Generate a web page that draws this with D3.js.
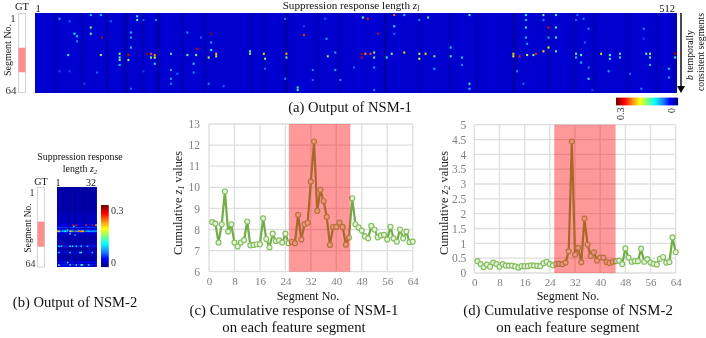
<!DOCTYPE html>
<html><head><meta charset="utf-8">
<script src="https://cdn.jsdelivr.net/npm/d3@7"></script>
<style>html,body{margin:0;padding:0;background:#fff}svg{display:block;filter:blur(0.3px)}text{font-family:"Liberation Serif",serif}</style>
</head><body><svg id="c" width="706" height="338">
<defs>
<filter id="softA" filterUnits="userSpaceOnUse" x="35" y="13" width="642" height="80" color-interpolation-filters="sRGB"><feGaussianBlur stdDeviation="0.6 0.7" edgeMode="duplicate"/></filter>
<filter id="softB" filterUnits="userSpaceOnUse" x="57" y="187" width="39.5" height="79.7" color-interpolation-filters="sRGB"><feGaussianBlur stdDeviation="0.5" edgeMode="duplicate"/></filter>
</defs></svg>
<script>
// ---------- data ----------
const segments = d3.range(1, 65);
const z1Values = [8.35,8.28,7.38,8.25,9.8,7.9,8.25,7.38,7.2,7.38,7.5,8.38,7.25,7.27,7.3,7.3,8.53,7.55,7.15,7.8,7.45,7.48,7.38,7.8,7.35,7.42,7.35,8.7,7.53,8.25,8.32,10.27,12.17,8.88,9.88,9.35,8.6,7.27,8.13,8.12,8.33,8.12,7.28,7.62,9.48,8.25,8.1,7.95,7.67,7.58,8.17,8.0,7.63,7.72,7.75,7.53,8.13,7.58,7.42,8.0,7.58,7.9,7.4,7.43];
const z2Values = [.4,.3,.2,.28,.21,.35,.3,.21,.3,.25,.25,.25,.22,.18,.23,.23,.23,.26,.25,.24,.23,.33,.38,.3,.26,.31,.31,.3,.35,.73,4.43,.62,.85,.36,1.83,.96,.57,.7,.42,.52,.52,.37,.34,.38,.4,.42,.3,.83,.52,.38,.4,.4,.82,.38,.47,.35,.31,.29,.48,.54,.35,.37,1.2,.7];
const xTicks = [0,8,16,24,32,40,48,56,64];
const yTicksC = [6,7,8,9,10,11,12,13];
const yTicksD = [0,.5,1,1.5,2,2.5,3,3.5,4,4.5,5];
const gtRangeC = [25.1, 44.4];
const gtRangeD = [25.4, 44.9];
// heat map (a): [column, row, value]
const hotA = [[19,4,.09],[27,6,.07],[44,1,.1],[52,1,.1],[60,6,.07],[81,2,.12],[81,5,.13],[86,5,.07],[96,5,.08],[44,11,.14],[31,16,.11],[33,18,.1],[33,22,.08],[44,16,.13],[53,19,.28],[76,15,.1],[76,19,.09],[76,27,.1],[26,33,.12],[52,33,.16],[67,32,.15],[67,35,.14],[67,37,.14],[67,41,.1],[74,33,.27],[74,37,.15],[89,32,.29],[92,32,.24],[92,35,.14],[95,33,.22],[95,35,.18],[95,40,.11],[108,32,.12],[108,45,.09],[108,52,.09],[108,56,.08],[121,33,.14],[128,33,.15],[138,35,.17],[144,32,.2],[144,34,.17],[140,16,.29],[140,23,.09],[140,29,.11],[129,28,.27],[121,15,.08],[132,19,.07],[19,46,.06],[27,46,.06],[49,47,.07],[39,56,.06],[76,60,.07],[86,46,.06],[126,40,.1],[126,47,.08],[138,56,.08],[150,58,.07],[113,48,.07],
[171,30,.13],[171,32,.15],[182,32,.2],[183,36,.14],[200,32,.21],[200,35,.15],[199,4,.08],[214,17,.25],[214,10,.06],[232,20,.09],[233,34,.15],[239,31,.09],[231,4,.07],[261,3,.14],[265,4,.26],[273,16,.27],[286,1,.23],[286,10,.11],[286,16,.07],[294,1,.1],[313,3,.13],[306,5,.08],[346,1,.13],[331,27,.1],[331,34,.12],[260,32,.28],[263,32,.22],[267,32,.24],[260,35,.27],[270,31,.15],[270,35,.14],[270,43,.09],[284,32,.15],[280,35,.12],[294,31,.2],[306,32,.16],[306,36,.18],[311,32,.2],[318,34,.14],[340,35,.1],[340,41,.08],[209,59,.13],[209,61,.12],[221,45,.08],[221,53,.07],[239,45,.09],[243,53,.08],[254,43,.07],[270,61,.08],[318,44,.09],[346,56,.12],[346,60,.1],[199,52,.08],[183,44,.07],
[391,1,.12],[405,1,.14],[415,1,.12],[391,5,.1],[405,5,.08],[391,11,.12],[409,11,.27],[415,11,.12],[409,19,.09],[415,19,.12],[391,19,.1],[409,27,.18],[405,30,.2],[415,30,.13],[392,24,.09],[381,32,.2],[381,34,.19],[386,34,.25],[392,33,.17],[397,33,.14],[399,32,.25],[431,32,.13],[435,33,.13],[431,35,.1],[435,39,.1],[451,32,.2],[458,33,.14],[458,36,.12],[466,32,.13],[466,35,.12],[487,32,.14],[490,32,.16],[490,35,.13],[510,32,.28],[510,35,.12],[431,5,.07],[437,4,.08],[432,1,.07],[441,12,.08],[438,23,.07],[485,12,.08],[485,20,.06],[441,52,.12],[441,43,.08],[505,44,.1],[505,51,.09],[490,41,.1],[474,48,.07],[457,46,.09],[483,60,.08],[389,56,.07],[384,46,.08],[444,61,.06]];
const darkColsA = [16,37,57,71,72,85,97,98,117,135,172,182,199,200,225,242,278,279,306,330,352,381,382,409,429,445,472,495,509];
const midColsA = [6,30,48,64,92,105,126,150,165,190,212,235,258,270,290,318,340,365,395,420,437,460,485,503];
// heat map (b)
const rowBaseB = [.012,.012,.012,.012,.012,.012,.012,.012,.012,.012,.012,.012,.012,.012,.012,.012,.012,.012,.012,.012,.016,.016,.018,.018,.02,.02,.018,.018,.02,.024,.03,.024,.055,.02,.05,.095,.04,.02,.02,.015,.015,.015,.015,.015,.015,.015,.018,.04,.018,.012,.012,.014,.032,.016,.014,.012,.012,.014,.014,.018,.04,.02,.045,.022];
const colGainB = [1,1,1,.9,1,1,1.1,1,1,.4,1,1,1.1,1,.4,1,1,1.1,1,1,.9,1,.4,1,1,1.1,1,1,.9,1,1,1];
const hotB = [[12,30,.28],[15,30,.26],[23,30,.25],[28,30,.27],[31,30,.2],[13,31,.12],[0,35,.22],[1,35,.2],[6,35,.12],[10,35,.17],[11,35,.22],[14,35,.24],[17,35,.22],[18,35,.24],[19,35,.22],[20,35,.2],[21,35,.22],[8,34,.12],[10,37,.11],[14,38,.09],[1,47,.11],[3,47,.11],[10,47,.11],[12,47,.12],[15,47,.11],[19,47,.11],[24,47,.1],[1,52,.11],[10,52,.11],[18,52,.12],[19,52,.12],[28,52,.1],[1,62,.13],[8,60,.11],[10,62,.12],[15,62,.12],[19,62,.14],[20,62,.13],[25,62,.11]];
const cbarStops = d3.range(0, 64);

// ---------- helpers ----------
function jet(t){
  const c = v => Math.round(255*Math.max(0,Math.min(1,v)));
  const r = 1.5-Math.abs(4*t-3), g = 1.5-Math.abs(4*t-2), b = 1.5-Math.abs(4*t-1);
  return `rgb(${c(r)},${c(g)},${c(b)})`;
}
const heatColor = d3.scaleSequential(jet).domain([0,0.3]);
const svg = d3.select('#c');
const txt = (s,x,y,size,anchor,fill) => svg.append('text').attr('x',x).attr('y',y).attr('font-size',size).attr('text-anchor',anchor||'middle').attr('fill',fill||'#111').text(s);
const vtxt = (s,x,y,size,anchor,fill) => svg.append('text').attr('transform',`translate(${x},${y}) rotate(-90)`).attr('font-size',size).attr('text-anchor',anchor||'middle').attr('fill',fill||'#111').text(s);
function subLabel(t, base, sub){
  t.append('tspan').text(base);
  t.append('tspan').attr('font-style','italic').text('z');
  t.append('tspan').attr('font-size','0.7em').attr('dy','0.25em').attr('font-style','italic').text(sub);
  return t;
}

// ---------- GT bars ----------
function gtBar(x, y0, y1, p0, p1){
  svg.append('rect').attr('x',x).attr('y',y0).attr('width',7).attr('height',y1-y0).attr('fill','#fff').attr('stroke','#d4d4d4').attr('stroke-width',1);
  svg.append('rect').attr('x',x).attr('y',p0).attr('width',7).attr('height',p1-p0).attr('fill','#ff8f8f');
}
gtBar(18.5,13.5,92.5,47.7,72.3);
gtBar(37.5,187.5,267,221.7,246.7);

// ---------- heat map (a) ----------
const xA = d3.scaleBand().domain(d3.range(512)).range([35,677]);
const yA = d3.scaleBand().domain(d3.range(64)).range([13,93]);
const darkSet = new Set(darkColsA), midSet = new Set(midColsA);
svg.append('rect').attr('x',35).attr('y',13).attr('width',642).attr('height',80).attr('fill',heatColor(.023));
const gA = svg.append('g').attr('filter','url(#softA)');
gA.append('rect').attr('x',35).attr('y',13).attr('width',642).attr('height',80).attr('fill',heatColor(.023));
gA.selectAll('.col').data(d3.range(512).filter(d=>darkSet.has(d)||midSet.has(d))).join('rect').attr('class','col')
  .attr('x',d=>xA(d)).attr('y',13).attr('width',xA.bandwidth()+.4).attr('height',80)
  .attr('fill',d=>heatColor(darkSet.has(d)?.012:.027));
gA.selectAll('.hot').data(hotA).join('rect').attr('class','hot')
  .attr('x',d=>xA(d[0])-.35).attr('y',d=>yA(d[1])-.3).attr('width',xA.bandwidth()+.7).attr('height',yA.bandwidth()+.9)
  .attr('fill',d=>heatColor(d[2]));

// ---------- heat map (b) ----------
const xB = d3.scaleBand().domain(d3.range(32)).range([57,96.5]);
const yB = d3.scaleBand().domain(d3.range(64)).range([187,266.7]);
const cellsB = d3.cross(d3.range(32), d3.range(64)).map(([c,r])=>[c,r,rowBaseB[r]*colGainB[c]]);
svg.append('rect').attr('x',57).attr('y',187).attr('width',39.5).attr('height',79.7).attr('fill',heatColor(.012));
const gB = svg.append('g').attr('filter','url(#softB)');
gB.append('rect').attr('x',57).attr('y',187).attr('width',39.5).attr('height',79.7).attr('fill',heatColor(.012));
gB.selectAll('.cell').data(cellsB).join('rect').attr('class','cell')
  .attr('x',d=>xB(d[0])).attr('y',d=>yB(d[1])).attr('width',xB.bandwidth()+.3).attr('height',yB.bandwidth()+.3)
  .attr('fill',d=>heatColor(d[2]));
gB.selectAll('.hot').data(hotB).join('rect').attr('class','hot')
  .attr('x',d=>xB(d[0])).attr('y',d=>yB(d[1])).attr('width',xB.bandwidth()+.3).attr('height',yB.bandwidth()+.3)
  .attr('fill',d=>heatColor(d[2]));

// ---------- colour bars ----------
const cbV = d3.scaleLinear().domain([63,0]).range([206,266.7]);
svg.selectAll('.cbv').data(cbarStops).join('rect').attr('class','cbv')
  .attr('x',101).attr('width',7.7).attr('y',d=>cbV(d)-1).attr('height',1.4)
  .attr('fill',d=>jet(d/63));
const cbH = d3.scaleLinear().domain([63,0]).range([616,676.7]);
svg.selectAll('.cbh').data(cbarStops).join('rect').attr('class','cbh')
  .attr('y',97.7).attr('height',7.6).attr('x',d=>cbH(d)).attr('width',1.4)
  .attr('fill',d=>jet(d/63));

// ---------- line charts ----------
function lineChart(vals, yDomain, yTicks, box, band){
  const x = d3.scaleLinear().domain([0,64]).range([box.l,box.r]);
  const y = d3.scaleLinear().domain(yDomain).range([box.b,box.t]);
  const g = svg.append('g');
  const grid = g.append('g');
  grid.selectAll('.v').data(xTicks).join('line').attr('x1',d=>x(d)).attr('x2',d=>x(d)).attr('y1',box.t).attr('y2',box.b).attr('stroke','#dedede').attr('stroke-width',1.3);
  grid.selectAll('.h').data(yTicks).join('line').attr('x1',box.l).attr('x2',box.r).attr('y1',d=>y(d)).attr('y2',d=>y(d)).attr('stroke','#dedede').attr('stroke-width',1.3);
  const ax = g.append('g').attr('transform',`translate(0,${box.b})`).call(d3.axisBottom(x).tickValues(xTicks).tickSize(0).tickPadding(box.padX));
  ax.select('.domain').remove();
  ax.selectAll('text').attr('font-size',11).attr('fill','#808080').attr('font-family','Liberation Serif');
  const ay = g.append('g').attr('transform',`translate(${box.l},0)`).call(d3.axisLeft(y).tickValues(yTicks).tickFormat(d3.format('~g')).tickSize(0).tickPadding(box.pad));
  ay.select('.domain').remove();
  ay.selectAll('text').attr('font-size',11.5).attr('fill','#808080').attr('font-family','Liberation Serif');
  const line = d3.line().x((d,i)=>x(segments[i])).y(d=>y(d));
  g.append('path').attr('d',line(vals)).attr('fill','none').attr('stroke','#70ad47').attr('stroke-width',2.2).attr('stroke-linejoin','round');
  g.selectAll('.pt').data(vals).join('circle').attr('class','pt')
    .attr('cx',(d,i)=>x(segments[i])).attr('cy',d=>y(d)).attr('r',2.5)
    .attr('fill','#e6f3dd').attr('stroke','#86bf60').attr('stroke-width',1.2);
  g.append('rect').attr('x',x(band[0])).attr('y',box.t).attr('width',x(band[1])-x(band[0])).attr('height',box.b-box.t)
    .attr('fill','#ff0000').attr('fill-opacity',.4);
}
lineChart(z1Values,[6,13],yTicksC,{l:209,r:412.7,t:124,b:271.7,pad:9,padX:6},gtRangeC);
lineChart(z2Values,[0,5],yTicksD,{l:474.3,r:675.7,t:124.7,b:273,pad:8,padX:5},gtRangeD);

// ---------- text ----------
txt('GT',22,10,10.5);
txt('1',13,22,11,'middle','#333');
txt('64',11,94,11,'middle','#333');
vtxt('Segment No.',11,50,10);
txt('1',38,12,10.5);
txt('512',675,11.5,10.5,'end');
subLabel(svg.append('text').attr('x',351).attr('y',9).attr('font-size',11.2).attr('text-anchor','middle').attr('fill','#111'),'Suppression response length ','l');
txt('(a) Output of NSM-1',350,112,14.6);
vtxt('0.3',624,120,10,'start','#222');
vtxt('0',675,113,10,'start','#222');
svg.append('line').attr('x1',681).attr('x2',681).attr('y1',13).attr('y2',87).attr('stroke','#000').attr('stroke-width',1.4);
svg.append('path').attr('d',d3.line()([[677,86],[685,86],[681,93]])).attr('fill','#000');
const bt = svg.append('text').attr('transform','translate(693,55) rotate(-90)').attr('font-size',9.8).attr('text-anchor','middle').attr('fill','#111');
bt.append('tspan').attr('font-style','italic').text('b');
bt.append('tspan').text(' temporally');
vtxt('consistent segments',704,52,9.8);

txt('Suppression response',80,160,9.9);
subLabel(svg.append('text').attr('x',80).attr('y',172).attr('font-size',9.9).attr('text-anchor','middle').attr('fill','#111'),'length ','2');
txt('GT',41,185,10);
txt('1',58,186,10);
txt('32',91,186,10);
txt('1',32,196,10,'middle','#333');
txt('64',30.5,267,10,'middle','#333');
vtxt('Segment No.',31,228,9.4);
txt('0.3',111,214,10,'start','#333');
txt('0',111,266,10,'start','#333');
txt('(b) Output of NSM-2',75,307,14.6);

txt('Segment No.',308,300,12);
txt('(c) Cumulative response of NSM-1',294,315,14.8);
txt('on each feature segment',294,332,14.8);
subLabel(svg.append('text').attr('transform','translate(182,203) rotate(-90)').attr('font-size',12.3).attr('text-anchor','middle').attr('fill','#222'),'Cumulative ','1').append('tspan').attr('dy','-0.2em').text(' values');

txt('Segment No.',568,300,12);
txt('(d) Cumulative response of NSM-2',568,315,14.8);
txt('on each feature segment',568,332,14.8);
subLabel(svg.append('text').attr('transform','translate(448,203) rotate(-90)').attr('font-size',12.3).attr('text-anchor','middle').attr('fill','#222'),'Cumulative ','2').append('tspan').attr('dy','-0.2em').text(' values');
</script></body></html>
